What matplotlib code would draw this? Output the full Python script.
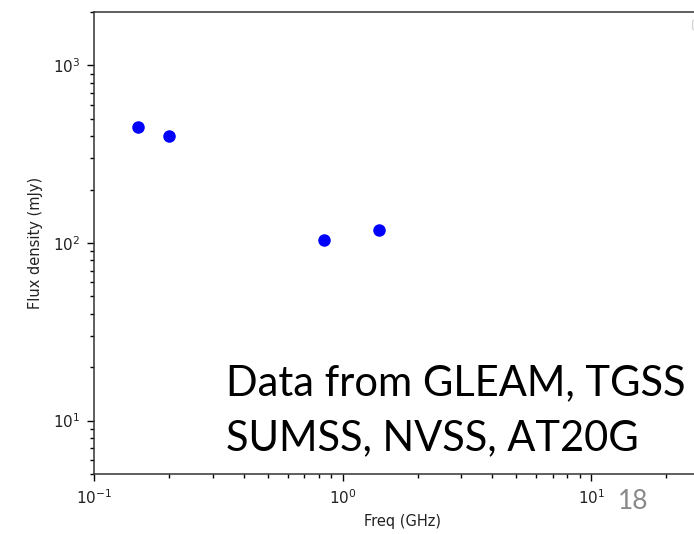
import matplotlib
matplotlib.use('Agg')
import matplotlib.pyplot as plt

# flux densities (GLEAM/TGSS 150 MHz, GLEAM 200 MHz, SUMSS, NVSS)
freq_ghz = [0.15, 0.20, 0.843, 1.4]
flux_mjy = [450, 403, 104, 118]

x_limits = (0.1, 30)
y_limits = (5, 2000)

fig = plt.figure(figsize=(6.94, 5.34), dpi=100)
ax = fig.add_axes([94 / 694, 60 / 534, 616 / 694, 462 / 534])

ax.plot(freq_ghz, flux_mjy, 'o', color='blue', markersize=8)
ax.set_xscale('log')
ax.set_yscale('log')
ax.set_xlim(*x_limits)
ax.set_ylim(*y_limits)
ax.set_xlabel('Freq (GHz)', fontsize=10.5, labelpad=5, color='#222222')
ax.set_ylabel('Flux density (mJy)', fontsize=10.5, labelpad=7, color='#222222')
ax.tick_params(which='both', labelsize=11, pad=5, labelcolor='#222222', width=1.0)
ax.tick_params(which='major', length=5)
ax.tick_params(which='minor', length=3)
for sp in ax.spines.values():
    sp.set_linewidth(1.1)
    sp.set_color('#333333')

# empty legend box, as in the original notebook output
ax.legend(handles=[], labels=[], loc='upper right')

# slide overlay text
fig.text(226 / 694, 1 - 395 / 534, 'Data from GLEAM, TGSS', family='Lato',
         fontsize=30, va='baseline', ha='left', color='black')
fig.text(226 / 694, 1 - 450 / 534, 'SUMSS, NVSS, AT20G', family='Lato',
         fontsize=30, va='baseline', ha='left', color='black')
fig.text(618 / 694, 1 - 509 / 534, '18', family='Lato',
         fontsize=19, va='baseline', ha='left', color='#898989')

fig.savefig('out.png', dpi=100)
